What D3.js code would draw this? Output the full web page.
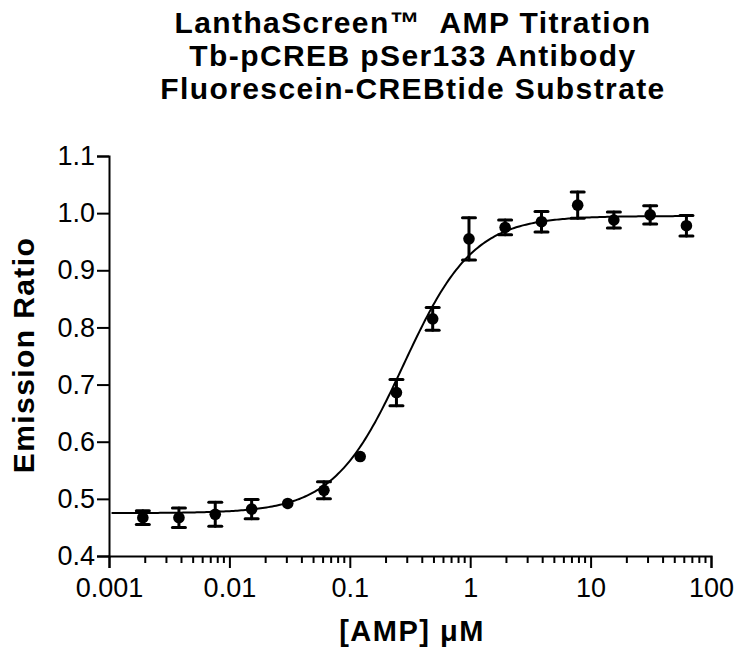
<!DOCTYPE html>
<html>
<head>
<meta charset="utf-8">
<script src="https://cdn.jsdelivr.net/npm/d3@7"></script>
<style>
  body { margin: 0; background: #fff; }
  svg { display: block; font-family: "Liberation Sans", Arial, sans-serif; }
</style>
</head>
<body>
<div id="chart"></div>
<script>
// AMP concentrations (uM), 2-fold dilution series
var conc = [0.00191, 0.00381, 0.00763, 0.0153, 0.0305, 0.061, 0.122, 0.244,
            0.488, 0.977, 1.95, 3.91, 7.81, 15.6, 31.25, 62.5];
var ratio = [0.467, 0.467, 0.473, 0.482, 0.492, 0.515, 0.574, 0.686,
             0.815, 0.955, 0.975, 0.985, 1.014, 0.988, 0.997, 0.978];
var err = [0.012, 0.017, 0.021, 0.017, 0.003, 0.015, 0.003, 0.023,
           0.020, 0.037, 0.013, 0.018, 0.023, 0.014, 0.016, 0.018];

// sigmoidal dose-response fit
var fitBottom = 0.475, fitTop = 0.995, fitEC50 = 0.28, fitHill = 1.5;
var fitRange = [0.00105, 70];

var xTicks = [0.001, 0.01, 0.1, 1, 10, 100];
var xTickLabels = ["0.001", "0.01", "0.1", "1", "10", "100"];
var yTicks = [0.4, 0.5, 0.6, 0.7, 0.8, 0.9, 1.0, 1.1];

var titleLines = ["LanthaScreen\u2122\u00a0 AMP Titration",
                  "Tb-pCREB pSer133 Antibody",
                  "Fluorescein-CREBtide Substrate"];

var width = 739, height = 650;

var svg = d3.select('#chart').append('svg')
  .attr('width', width)
  .attr('height', height);

var x = d3.scaleLog().domain([0.001, 100]).range([109, 711]);
var y = d3.scaleLinear().domain([0.4, 1.1]).range([556, 156]);

// title
svg.append('text')
  .attr('text-anchor', 'middle')
  .attr('font-weight', 'bold')
  .attr('font-size', 30)
  .attr('letter-spacing', 1.4)
  .selectAll('tspan')
  .data(titleLines)
  .enter()
  .append('tspan')
  .attr('x', 413)
  .attr('y', function(d, i) { return 33 + i * 33; })
  .text(function(d) { return d; });

// minor x ticks
var minor = [];
for (var e = -3; e < 2; e++) {
  for (var m = 2; m <= 9; m++) minor.push(m * Math.pow(10, e));
}

svg.append('g')
  .selectAll('line')
  .data(minor)
  .enter()
  .append('line')
  .attr('x1', function(d) { return x(d); })
  .attr('x2', function(d) { return x(d); })
  .attr('y1', 556)
  .attr('y2', 563)
  .attr('stroke', '#000')
  .attr('stroke-width', 2);

var xAxis = svg.append('g')
  .attr('transform', 'translate(0,556)')
  .call(d3.axisBottom(x).tickValues(xTicks)
    .tickFormat(function(d, i) { return xTickLabels[i]; })
    .tickSizeOuter(0).tickSize(12).tickPadding(5));

var yAxis = svg.append('g')
  .attr('transform', 'translate(109,0)')
  .call(d3.axisLeft(y).tickValues(yTicks)
    .tickFormat(d3.format('.1f'))
    .tickSizeOuter(0).tickSize(12).tickPadding(2));

[xAxis, yAxis].forEach(function(a) {
  a.selectAll('path, line').attr('stroke', '#000').attr('stroke-width', 2);
  a.selectAll('text').attr('fill', '#000')
    .style('font-family', '"Liberation Sans", Arial, sans-serif')
    .style('font-size', '27px');
});
xAxis.selectAll('text').attr('dy', '0.9em');

// axis titles
svg.append('text')
  .attr('x', 412)
  .attr('y', 641)
  .attr('text-anchor', 'middle')
  .attr('font-weight', 'bold')
  .attr('font-size', 29)
  .attr('letter-spacing', 1.5)
  .text('[AMP] \u03bcM');

svg.append('text')
  .attr('transform', 'translate(34,355) rotate(-90)')
  .attr('text-anchor', 'middle')
  .attr('font-weight', 'bold')
  .attr('font-size', 30)
  .attr('letter-spacing', 1.4)
  .text('Emission Ratio');

// fitted curve
var curveX = d3.range(0, 301).map(function(i) {
  var lo = Math.log10(fitRange[0]), hi = Math.log10(fitRange[1]);
  return Math.pow(10, lo + (hi - lo) * i / 300);
});
var line = d3.line()
  .x(function(d) { return x(d); })
  .y(function(d) {
    return y(fitBottom + (fitTop - fitBottom) / (1 + Math.pow(fitEC50 / d, fitHill)));
  });
svg.append('path')
  .datum(curveX)
  .attr('d', line)
  .attr('fill', 'none')
  .attr('stroke', '#000')
  .attr('stroke-width', 2);

// error bars
var pts = conc.map(function(c, i) { return { c: c, v: ratio[i], e: err[i] }; });
var bars = svg.append('g')
  .attr('stroke', '#000')
  .attr('stroke-width', 3)
  .attr('stroke-linecap', 'round');

bars.selectAll('.v')
  .data(pts)
  .enter()
  .append('line')
  .attr('x1', function(d) { return x(d.c); })
  .attr('x2', function(d) { return x(d.c); })
  .attr('y1', function(d) { return y(d.v - d.e); })
  .attr('y2', function(d) { return y(d.v + d.e); });

[-1, 1].forEach(function(s) {
  bars.selectAll('.cap' + s)
    .data(pts.filter(function(d) { return d.e > 0.006; }))
    .enter()
    .append('line')
    .attr('x1', function(d) { return x(d.c) - 6.5; })
    .attr('x2', function(d) { return x(d.c) + 6.5; })
    .attr('y1', function(d) { return y(d.v + s * d.e); })
    .attr('y2', function(d) { return y(d.v + s * d.e); });
});

svg.append('g')
  .selectAll('circle')
  .data(pts)
  .enter()
  .append('circle')
  .attr('cx', function(d) { return x(d.c); })
  .attr('cy', function(d) { return y(d.v); })
  .attr('r', 5.8)
  .attr('fill', '#000');
</script>
</body>
</html>
